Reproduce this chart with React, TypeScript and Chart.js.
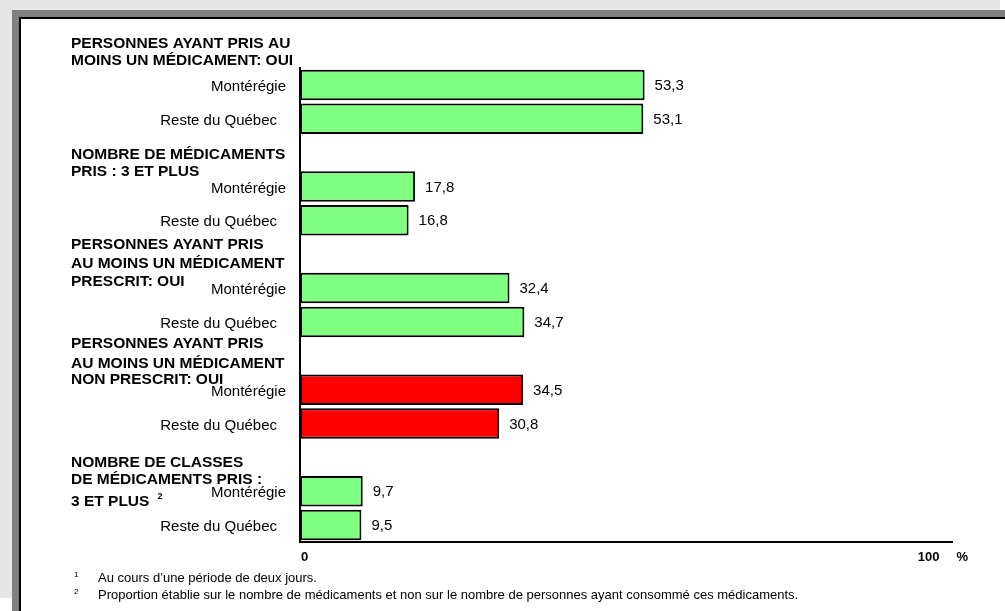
import React, { useEffect, useRef } from "react";
import { Chart, registerables } from "chart.js";

Chart.register(...registerables);

// ---- Data ----
const groupTitles: string[][] = [
  ["PERSONNES AYANT PRIS AU", "MOINS UN MÉDICAMENT: OUI"],
  ["NOMBRE DE MÉDICAMENTS", "PRIS : 3 ET PLUS"],
  ["PERSONNES AYANT PRIS", "AU MOINS UN MÉDICAMENT", "PRESCRIT: OUI"],
  ["PERSONNES AYANT PRIS", "AU MOINS UN MÉDICAMENT", "NON PRESCRIT: OUI"],
  ["NOMBRE DE CLASSES", "DE MÉDICAMENTS PRIS :", "3 ET PLUS"],
];
const groupTitleNotes: string[] = ["", "", "", "", "2"];
const regions: string[] = ["Montérégie", "Reste du Québec"];
const monteregieValues: number[] = [53.3, 17.8, 32.4, 34.5, 9.7];
const resteQuebecValues: number[] = [53.1, 16.8, 34.7, 30.8, 9.5];
const groupColors: string[] = ["#80ff80", "#80ff80", "#80ff80", "#ff0000", "#80ff80"];
const axisTickValues: number[] = [0, 100];
const axisTickLabels: string[] = ["0", "100"];
const axisUnit = "%";
const footnotes: string[] = [
  "Au cours d\u2019une période de deux jours.",
  "Proportion établie sur le nombre de médicaments et non sur le nombre de personnes ayant consommé ces médicaments.",
];

// ---- Build category table ----
const labels: string[] = [];
const values: (number | null)[] = [];
const colors: string[] = [];
const groupStartIndex: number[] = [];
groupTitles.forEach((_, g) => {
  groupStartIndex.push(labels.length);
  labels.push(regions[0]);
  values.push(monteregieValues[g]);
  colors.push(groupColors[g]);
  labels.push(regions[1]);
  values.push(resteQuebecValues[g]);
  colors.push(groupColors[g]);
  if (g < groupTitles.length - 1) {
    labels.push("");
    values.push(null);
    colors.push("rgba(0,0,0,0)");
  }
});

const FONT = '"Liberation Sans", Arial, Helvetica, sans-serif';

// heading line baselines relative to the Montérégie bar centre of each group
const headingOffsets: number[][] = [
  [-37, -20],
  [-28, -11],
  [-39, -20, -2],
  [-42, -22, -6],
  [-24, -7, 15],
];

const annotate = {
  id: "annotate",
  afterDatasetsDraw(chart: any) {
    const ctx: CanvasRenderingContext2D = chart.ctx;
    const xs = chart.scales.x;
    const ys = chart.scales.y;
    const area = chart.chartArea;
    const x0 = xs.getPixelForValue(0);
    ctx.save();

    // axes
    ctx.strokeStyle = "#000";
    ctx.lineWidth = 2;
    ctx.beginPath();
    ctx.moveTo(x0, area.top - 1);
    ctx.lineTo(x0, area.bottom + 1);
    ctx.moveTo(x0 - 1, area.bottom);
    ctx.lineTo(area.right, area.bottom);
    ctx.stroke();

    // value labels
    const meta = chart.getDatasetMeta(0);
    ctx.fillStyle = "#000";
    ctx.font = `15px ${FONT}`;
    ctx.textBaseline = "middle";
    ctx.textAlign = "left";
    meta.data.forEach((el: any, i: number) => {
      const v = values[i];
      if (v == null) return;
      ctx.fillText(v.toFixed(1).replace(".", ","), el.x + 10, el.y + 1);
    });

    // category labels
    ctx.textAlign = "right";
    labels.forEach((lab, i) => {
      if (!lab) return;
      const y = ys.getPixelForValue(i);
      const dx = lab === regions[0] ? 14 : 23;
      ctx.fillText(lab, x0 - dx, y + 2);
    });

    // group headings
    ctx.textAlign = "left";
    ctx.textBaseline = "alphabetic";
    groupTitles.forEach((lines, g) => {
      const yc = ys.getPixelForValue(groupStartIndex[g]);
      lines.forEach((line, k) => {
        ctx.font = `bold 15.5px ${FONT}`;
        const yy = yc + headingOffsets[g][k];
        ctx.fillText(line, 71, yy);
        if (k === lines.length - 1 && groupTitleNotes[g]) {
          const w = ctx.measureText(line).width;
          ctx.font = `bold 9px ${FONT}`;
          ctx.fillText(groupTitleNotes[g], 71 + w + 8, yy - 7);
        }
      });
    });

    // x tick labels
    ctx.font = `bold 13px ${FONT}`;
    ctx.textBaseline = "middle";
    axisTickValues.forEach((v, i) => {
      const px = xs.getPixelForValue(v);
      if (v === 0) {
        ctx.textAlign = "left";
        ctx.fillText(axisTickLabels[i], px + 1, area.bottom + 15);
      } else {
        ctx.textAlign = "right";
        ctx.fillText(axisTickLabels[i], px - 7, area.bottom + 15);
        ctx.textAlign = "left";
        ctx.fillText(axisUnit, px + 10, area.bottom + 15);
      }
    });

    // footnotes
    ctx.textAlign = "left";
    ctx.textBaseline = "alphabetic";
    footnotes.forEach((t, i) => {
      const base = 582 + i * 17;
      ctx.font = `8px ${FONT}`;
      ctx.fillText(String(i + 1), 74, base - 5);
      ctx.font = `13px ${FONT}`;
      ctx.fillText(t, 98, base);
    });

    ctx.restore();
  },
};

export default function App() {
  const ref = useRef<HTMLCanvasElement>(null);
  useEffect(() => {
    if (!ref.current) return;
    const chart = new Chart(ref.current, {
      type: "bar",
      data: {
        labels,
        datasets: [
          {
            data: values as any,
            backgroundColor: colors,
            borderColor: "#000",
            borderWidth: 2,
            borderSkipped: false,
            barPercentage: 0.9,
            categoryPercentage: 1,
          },
        ],
      },
      options: {
        indexAxis: "y",
        animation: false,
        responsive: false,
        maintainAspectRatio: false,
        layout: { padding: { left: 300, right: 52, top: 68, bottom: 69 } },
        plugins: { legend: { display: false }, tooltip: { enabled: false }, title: { display: false } },
        scales: {
          x: { display: false, min: 0, max: 101 },
          y: { display: false },
        },
      },
      plugins: [annotate],
    });
    return () => chart.destroy();
  }, []);

  return (
    <div style={{ position: "fixed", left: 0, top: 0, width: 1005, height: 611, background: "#fff", overflow: "hidden" }}>
      <div style={{ position: "absolute", left: 0, top: 0, width: 1000, height: 598, background: "#e6e6e6" }} />
      <div style={{ position: "absolute", left: 12, top: 10, right: 0, bottom: 0, background: "#808080" }} />
      <div
        style={{
          position: "absolute",
          left: 19,
          top: 17,
          right: 0,
          bottom: 0,
          background: "#fff",
          borderTop: "2px solid #000",
          borderLeft: "2px solid #000",
        }}
      />
      <canvas ref={ref} width={1005} height={611} style={{ position: "absolute", left: 0, top: 0, width: 1005, height: 611 }} />
    </div>
  );
}
